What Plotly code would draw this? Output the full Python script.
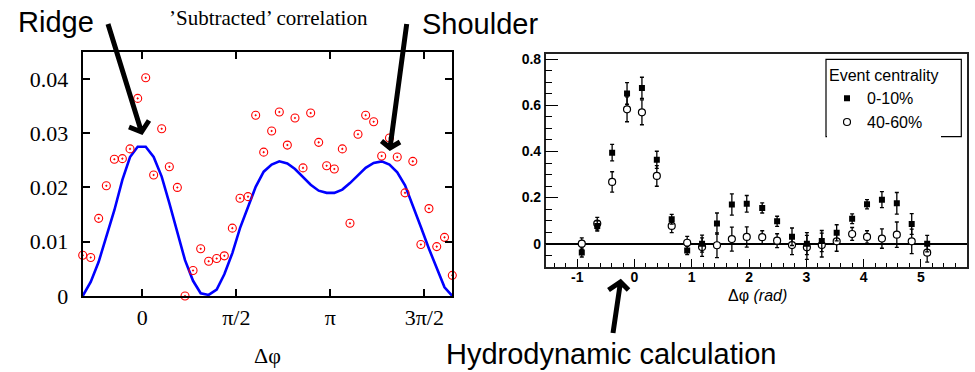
import plotly.graph_objects as go

# ---------------- data: left panel ('Subtracted' correlation) ----------------
phi_left = [-0.997, -0.863, -0.730, -0.602, -0.468, -0.334, -0.206, -0.078, 0.056, 0.189,
            0.323, 0.451, 0.585, 0.713, 0.847, 0.975, 1.108, 1.242, 1.370, 1.504,
            1.632, 1.766, 1.894, 2.028, 2.161, 2.289, 2.423, 2.551, 2.685, 2.813,
            2.947, 3.080, 3.208, 3.342, 3.470, 3.604, 3.732, 3.866, 4.000, 4.130,
            4.260, 4.390, 4.520, 4.655, 4.790, 4.920, 5.050, 5.180]
subtracted = [0.0075, 0.0071, 0.0143, 0.0203, 0.0252, 0.0253, 0.0271, 0.0364, 0.0402, 0.0223,
              0.0308, 0.0238, 0.0200, 0.0000, 0.0047, 0.0087, 0.0064, 0.0069, 0.0074, 0.0125,
              0.0180, 0.0183, 0.0333, 0.0265, 0.0304, 0.0339, 0.0278, 0.0328, 0.0236, 0.0337,
              0.0283, 0.0240, 0.0234, 0.0271, 0.0134, 0.0298, 0.0333, 0.0321, 0.0258, 0.0291,
              0.0256, 0.0190, 0.0248, 0.0095, 0.0161, 0.0091, 0.0108, 0.0038]
hydro = [0.0000, 0.0026, 0.0063, 0.0109, 0.0158, 0.0214, 0.0256, 0.0275, 0.0275, 0.0256,
         0.0220, 0.0171, 0.0115, 0.0066, 0.0028, 0.0005, 0.0002, 0.0012, 0.0040, 0.0079,
         0.0125, 0.0164, 0.0201, 0.0229, 0.0242, 0.0248, 0.0244, 0.0234, 0.0220, 0.0205,
         0.0194, 0.0190, 0.0190, 0.0196, 0.0208, 0.0223, 0.0236, 0.0245, 0.0248, 0.0242,
         0.0228, 0.0204, 0.0168, 0.0127, 0.0087, 0.0050, 0.0016, 0.0000]
left_xtickvals = [0, 1.5707963, 3.1415927, 4.712389]
left_xticktext = ["0", "\u03c0/2", "\u03c0", "3\u03c0/2"]
left_ytickvals = [0, 0.01, 0.02, 0.03, 0.04]
left_yticktext = ["0", "0.01", "0.02", "0.03", "0.04"]

# ---------------- data: right panel (measured correlation) ----------------
phi_right = [-0.92, -0.65, -0.39, -0.13, 0.13, 0.39, 0.65, 0.92, 1.18, 1.44,
             1.70, 1.96, 2.23, 2.49, 2.75, 3.01, 3.27, 3.53, 3.80, 4.06,
             4.32, 4.58, 4.84, 5.11]
central = [-0.038, 0.077, 0.395, 0.652, 0.676, 0.364, 0.106, -0.030, 0.000, 0.087,
           0.170, 0.173, 0.155, 0.097, 0.030, 0.000, 0.011, 0.047, 0.108, 0.171,
           0.191, 0.175, 0.085, 0.000]
central_err = [0.020, 0.022, 0.036, 0.047, 0.046, 0.037, 0.021, 0.018, 0.037, 0.046,
               0.046, 0.036, 0.022, 0.022, 0.038, 0.048, 0.046, 0.035, 0.021, 0.020,
               0.035, 0.047, 0.045, 0.036]
peripheral = [0.000, 0.087, 0.268, 0.583, 0.570, 0.294, 0.077, 0.004, -0.015, -0.007,
              0.020, 0.029, 0.028, 0.013, -0.006, -0.016, -0.006, 0.010, 0.042, 0.029,
              0.022, 0.039, 0.010, -0.039]
peripheral_err = [0.025, 0.027, 0.044, 0.054, 0.054, 0.045, 0.029, 0.028, 0.040, 0.054,
                  0.052, 0.044, 0.028, 0.030, 0.042, 0.052, 0.052, 0.043, 0.028, 0.027,
                  0.042, 0.055, 0.053, 0.041]
right_ytickvals = [0, 0.2, 0.4, 0.6, 0.8]
right_yticktext = ["0", "0.2", "0.4", "0.6", "0.8"]
right_xtickvals = [-1, 0, 1, 2, 3, 4, 5]
right_xticktext = ["-1", "0", "1", "2", "3", "4", "5"]

W, H = 975, 372
SERIF = "Liberation Serif"
SANS = "Liberation Sans"


def X(p):
    return p / W


def Y(p):
    return 1 - p / H


fig = go.Figure()

# left panel
fig.add_trace(go.Scatter(x=phi_left, y=hydro, mode="lines",
                         line=dict(color="#0000ff", width=2.6),
                         xaxis="x", yaxis="y", showlegend=False))
fig.add_trace(go.Scatter(x=phi_left, y=subtracted, mode="markers",
                         marker=dict(symbol="circle-open-dot", size=8, color="#ff0000",
                                     line=dict(width=1.1, color="#ff0000")),
                         cliponaxis=False, xaxis="x", yaxis="y", showlegend=False))

# right panel
fig.add_trace(go.Scatter(x=phi_right, y=peripheral, mode="markers", name="40-60%",
                         marker=dict(symbol="circle", size=7, color="white",
                                     line=dict(width=1.2, color="black")),
                         error_y=dict(type="data", array=peripheral_err, color="black",
                                      thickness=1.3, width=2),
                         xaxis="x2", yaxis="y2", legendrank=2))
fig.add_trace(go.Scatter(x=phi_right, y=central, mode="markers", name="0-10%",
                         marker=dict(symbol="square", size=6, color="black",
                                     line=dict(width=0)),
                         error_y=dict(type="data", array=central_err, color="black",
                                      thickness=1.3, width=2),
                         xaxis="x2", yaxis="y2", legendrank=1))

# arrows (decorations)
def arrow(tail, tip, a1, a2):
    return ("M {} {} L {} {} M {} {} L {} {} L {} {}".format(
        X(tail[0]), Y(tail[1]), X(tip[0]), Y(tip[1]),
        X(a1[0]), Y(a1[1]), X(tip[0]), Y(tip[1]), X(a2[0]), Y(a2[1])))


shapes = []
for tail, tip, a1, a2 in [
    ((108, 24), (141.5, 132), (129, 127), (149, 120.5)),
    ((406.7, 24), (390, 148), (381.5, 141), (400, 142)),
    ((613, 333), (620.5, 282), (608.5, 290), (628.5, 290)),
]:
    shapes.append(dict(type="path", xref="paper", yref="paper", path=arrow(tail, tip, a1, a2),
                       line=dict(color="black", width=5)))

# legend frame
shapes.append(dict(type="rect", xref="paper", yref="paper",
                   x0=X(826), x1=X(961.3), y0=Y(136.7), y1=Y(59.3),
                   line=dict(color="black", width=1.2), fillcolor="rgba(0,0,0,0)", layer="above"))


def label(text, x, y, family, size):
    return dict(text=text, x=X(x), y=Y(y), xref="paper", yref="paper", showarrow=False,
                xanchor="center", yanchor="middle",
                font=dict(family=family, size=size, color="black"))


annotations = [
    label("\u2019Subtracted\u2019 correlation", 268, 18, SERIF, 21),
    label("Ridge", 56, 22, SANS, 29),
    label("Shoulder", 480, 24, SANS, 29),
    label("Hydrodynamic calculation", 611, 354, SANS, 29),
    label("\u0394\u03c6", 267, 355, SERIF, 22),
    label("\u0394\u03c6 <i>(rad)</i>", 757, 295, SANS, 16),
]

fig.update_layout(
    width=W, height=H, margin=dict(l=0, r=0, t=0, b=0),
    paper_bgcolor="white", plot_bgcolor="white", template="none",
    shapes=shapes, annotations=annotations,
    xaxis=dict(domain=[X(82.7), X(452.3)], range=[-0.997, 5.18], anchor="y",
               tickvals=left_xtickvals, ticktext=left_xticktext,
               ticks="inside", ticklen=7, tickwidth=1.5, tickcolor="black",
               showline=True, linewidth=2, linecolor="black", mirror="ticks",
               showgrid=False, zeroline=False, automargin=False,
               tickfont=dict(family=SERIF, size=22, color="black"), ticklabelstandoff=1),
    yaxis=dict(domain=[Y(296), Y(51.7)], range=[0, 0.045], anchor="x",
               tickvals=left_ytickvals, ticktext=left_yticktext,
               ticks="inside", ticklen=7, tickwidth=1.5, tickcolor="black",
               showline=True, linewidth=2, linecolor="black", mirror="ticks",
               showgrid=False, zeroline=False, automargin=False,
               tickfont=dict(family=SERIF, size=22, color="black"), ticklabelstandoff=8),
    xaxis2=dict(domain=[X(545.7), X(966.7)], range=[-1.55, 5.8], anchor="y2",
                tickvals=right_xtickvals, ticktext=right_xticktext,
                ticks="inside", ticklen=8, tickwidth=1, tickcolor="black",
                minor=dict(ticks="inside", dtick=0.2, tick0=0, ticklen=4, tickwidth=1,
                           tickcolor="black", showgrid=False),
                showline=True, linewidth=1.5, linecolor="#222", mirror=True,
                showgrid=False, zeroline=False, automargin=False,
                tickfont=dict(family=SANS, size=14, color="black", weight="bold"),
                ticklabelstandoff=-3),
    yaxis2=dict(domain=[Y(266.7), Y(54)], range=[-0.1, 0.823], anchor="x2",
                tickvals=right_ytickvals, ticktext=right_yticktext,
                ticks="inside", ticklen=13, tickwidth=1, tickcolor="black",
                minor=dict(ticks="inside", dtick=0.05, tick0=0, ticklen=7, tickwidth=1,
                           tickcolor="black", showgrid=False),
                showline=True, linewidth=1.5, linecolor="#222", mirror=True,
                showgrid=False, zeroline=True, zerolinecolor="black", zerolinewidth=1.5,
                automargin=False,
                tickfont=dict(family=SANS, size=14, color="black", weight="bold"),
                ticklabelstandoff=0),
    legend=dict(x=X(827), y=Y(60.5), xanchor="left", yanchor="top",
                borderwidth=0, bgcolor="white",
                title=dict(text="Event centrality",
                           font=dict(family=SANS, size=16, color="black")),
                font=dict(family=SANS, size=16, color="black"),
                traceorder="normal", itemwidth=30),
    showlegend=True,
)

fig.write_html("out.html")
